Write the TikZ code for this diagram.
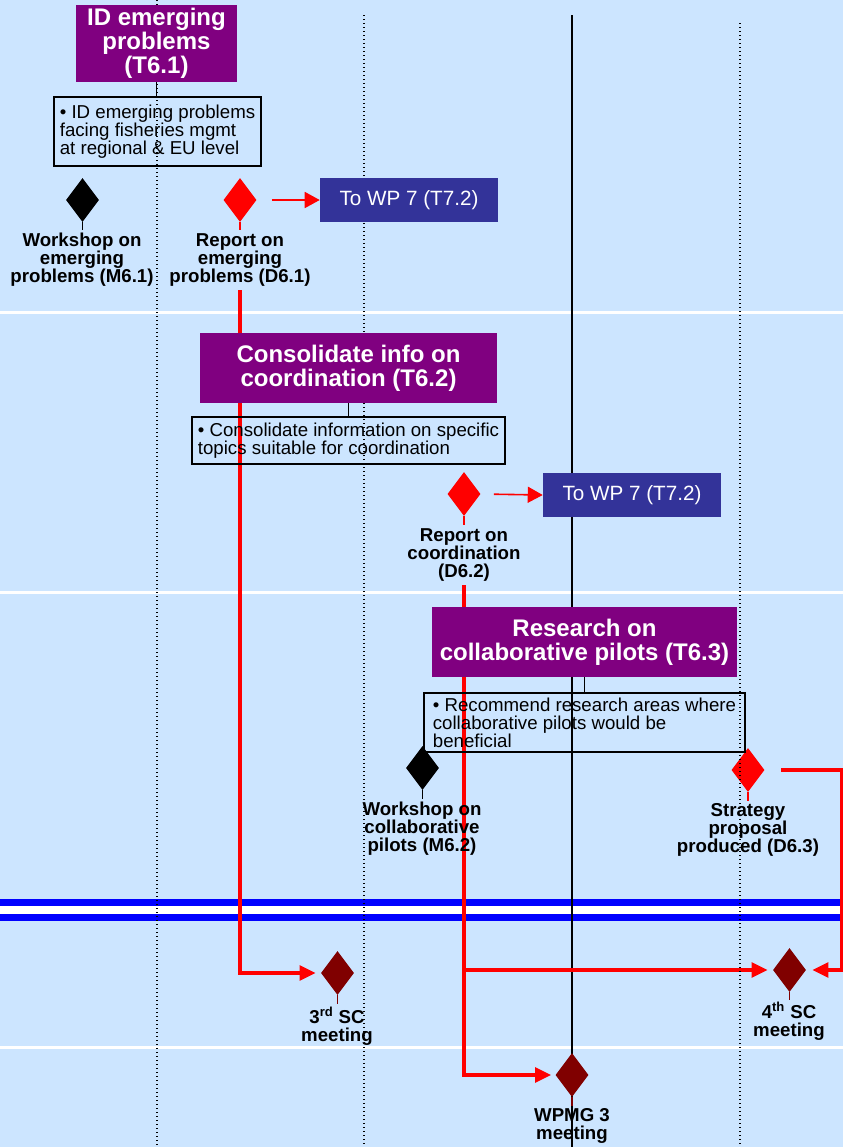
\documentclass[tikz,border=0pt]{standalone}
\usepackage{fontspec}
\setmainfont{Liberation Sans}
\usetikzlibrary{shapes.geometric,arrows.meta}
\definecolor{bg}{RGB}{204,229,255}
\definecolor{purp}{RGB}{128,0,128}
\definecolor{wpblue}{RGB}{51,51,153}
\definecolor{darkred}{RGB}{128,0,0}
\definecolor{bandblue}{RGB}{0,0,255}
\begin{document}
\begin{tikzpicture}[x=0.75pt,y=-0.75pt,
  task/.style={fill=purp,text=white,inner sep=0pt,align=center,
    font=\fontsize{18}{18}\selectfont\bfseries},
  note/.style={draw=black,line width=1.2pt,inner sep=0pt,align=left,
    font=\fontsize{14}{13.5}\selectfont},
  wpbox/.style={fill=wpblue,text=white,inner sep=0pt,minimum width=133.5pt,
    minimum height=33pt,font=\fontsize{15.5}{15.5}\selectfont},
  ms/.style={diamond,inner sep=0pt,minimum width=24.75pt,minimum height=33pt},
  lab/.style={inner sep=0pt,align=center,font=\fontsize{14}{13.6}\selectfont\bfseries},
  stem/.style={line width=1.2pt},
  dotline/.style={line width=0.9pt,dash pattern=on 0.9pt off 2.1pt},
  redthin/.style={red,line width=1.2pt,-{Triangle[length=11.25pt,width=12pt]}},
  redthick/.style={red,line width=2.6pt,-{Triangle[length=12pt,width=11pt]}},
]
\useasboundingbox (0,0) rectangle (843,1147);
\fill[bg] (0,0) rectangle (843,1147);
% white separators
\foreach \yy in {312,592,1047} \draw[white,line width=2.25pt] (0,\yy) -- (843,\yy);
% double blue band
\fill[white] (0,905) rectangle (843,915);
\draw[bandblue,line width=5.25pt] (0,902) -- (843,902);
\draw[bandblue,line width=5.25pt] (0,917.8) -- (843,917.8);
% solid time line
\draw[line width=1.2pt] (572,15) -- (572,1147);
% red flows
\coordinate (r1) at (240,290);
\coordinate (r2) at (464,585);
\coordinate (rc) at (842,770);
% diamonds
\node[ms,fill=black] (m61) at (82.5,200) {};
\node[ms,fill=red] (d61) at (240,200) {};
\node[ms,fill=red] (d62) at (464,494) {};
\node[ms,fill=black] (m62) at (422.5,768) {};
\node[ms,fill=red] (d63) at (748,770) {};
\node[ms,fill=darkred] (sc3) at (337.5,973) {};
\node[ms,fill=darkred] (sc4) at (789.5,970) {};
\node[ms,fill=darkred] (wpmg) at (572,1075) {};
\draw[stem] (m61.south) -- ++(0,8);
\draw[stem,red] (d61.south) -- ++(0,8);
\draw[stem,red] (d62.south) -- ++(0,9);
\draw[stem] (m62.south) -- ++(0,9);
\draw[stem,red] (d63.south) -- ++(0,9);
\draw[stem,darkred] (sc3.south) -- ++(0,9);
\draw[stem,darkred] (sc4.south) -- ++(0,8);
\draw[stem,darkred] (wpmg.south) -- ++(0,9);
\draw[redthick,shorten >=3.75pt] (r1) |- (sc3.west);
\draw[redthick,shorten >=3pt] (r2) |- (wpmg.west);
\draw[redthick,shorten >=3.75pt] (r2 |- sc4.west) -- (sc4.west);
\draw[redthick,shorten <=12.4pt,shorten >=4.5pt] (d63.east) -- (rc) |- (sc4.east);
% dotted time lines
\draw[dotline] (157,0) -- (157,1147);
\draw[dotline] (364,15) -- (364,1147);
\draw[dotline] (740,23) -- (740,1147);
% tasks
\node[task,minimum width=120.75pt,minimum height=57.75pt] (t61) at (156.5,43.5) {ID emerging\\problems\\(T6.1)};
\node[note,minimum width=155.25pt,minimum height=51.75pt] (n61) at (157.5,131.5) {• ID emerging problems\\facing fisheries mgmt\\at regional \& EU level};
\draw[line width=1.2pt] (t61.south) -- (t61.south |- n61.north);
\node[task,minimum width=222.75pt,minimum height=52.5pt] (t62) at (348.5,368) {Consolidate info on\\coordination (T6.2)};
\node[note,minimum width=234.75pt,minimum height=35.25pt] (n62) at (348.5,440.5) {• Consolidate information on specific\\topics suitable for coordination};
\draw[line width=1.2pt] (t62.south) -- (t62.south |- n62.north);
\node[task,minimum width=228.75pt,minimum height=52.5pt] (t63) at (584.5,642) {Research on\\collaborative pilots (T6.3)};
\node[note,minimum width=240.75pt,minimum height=44.25pt] (n63) at (584.5,722.5) {• Recommend research areas where\\collaborative pilots would be\\beneficial};
\draw[line width=1.2pt] (t63.south) -- (t63.south |- n63.north);
% WP7 boxes
\node[wpbox] (wp1) at (409,200) {To WP 7 (T7.2)};
\node[wpbox] (wp2) at (632,495) {To WP 7 (T7.2)};
\draw[redthin,shorten <=11.25pt] (d61.east) -- (wp1.west);
\draw[redthin,shorten <=9.75pt] (d62.east) -- (wp2.west);
% labels
\node[lab] (lm61) at (82,260) {Workshop on\\emerging\\problems (M6.1)};
\node[lab] (ld61) at (240,260) {Report on\\emerging\\problems (D6.1)};
\node[lab] (ld62) at (464,555) {Report on\\coordination\\(D6.2)};
\node[lab] (lm62) at (422,828.5) {Workshop on\\collaborative\\pilots (M6.2)};
\node[lab] (ld63) at (748,830) {Strategy\\proposal\\produced (D6.3)};
\node[lab] (lsc3) at (337,1026) {3\textsuperscript{rd} SC\\meeting};
\node[lab] (lsc4) at (789,1021) {4\textsuperscript{th} SC\\meeting};
\node[lab] (lwpmg) at (572,1126) {WPMG 3\\meeting};
\end{tikzpicture}
\end{document}
